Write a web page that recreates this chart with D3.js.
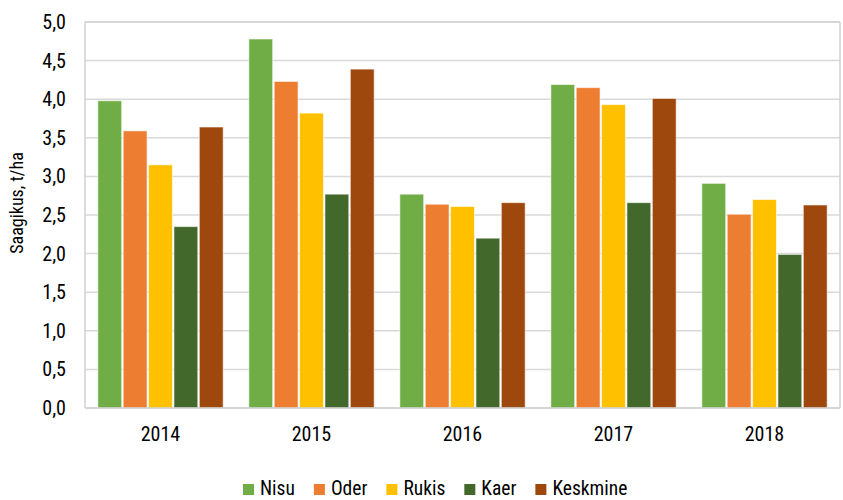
<!DOCTYPE html>
<html>
<head>
<meta charset="utf-8">
<script src="https://cdn.jsdelivr.net/npm/d3@7"></script>
<style>
  body { margin: 0; background: #fff; }
  text { font-family: "Roboto Condensed", "Roboto", sans-serif; fill: #000; }
</style>
</head>
<body>
<script>
// data
const years = ["2014", "2015", "2016", "2017", "2018"];
const crops = ["Nisu", "Oder", "Rukis", "Kaer", "Keskmine"];
const colors = ["#70AD47", "#ED7D31", "#FFC000", "#43682B", "#9E480E"];
const nisu = [3.98, 4.78, 2.77, 4.19, 2.91];
const oder = [3.59, 4.23, 2.64, 4.15, 2.51];
const rukis = [3.15, 3.82, 2.61, 3.93, 2.70];
const kaer = [2.35, 2.77, 2.20, 2.66, 1.99];
const keskmine = [3.64, 4.39, 2.66, 4.01, 2.63];
const yTicks = [0, 0.5, 1, 1.5, 2, 2.5, 3, 3.5, 4, 4.5, 5];

const series = [nisu, oder, rukis, kaer, keskmine];

const width = 843, height = 500;
const margin = { top: 22, right: 3, bottom: 92, left: 85 };
const plotW = width - margin.left - margin.right;
const plotH = height - margin.top - margin.bottom;

const svg = d3.select("body").append("svg")
    .attr("width", width)
    .attr("height", height);

const g = svg.append("g")
    .attr("transform", `translate(${margin.left},${margin.top})`);

let x0 = d3.scaleBand()
    .domain(years)
    .range([0, plotW])
    .paddingInner(0.16)
    .paddingOuter(0.08);

let x1 = d3.scaleBand()
    .domain(crops)
    .range([0, x0.bandwidth()]);

let y = d3.scaleLinear()
    .domain([0, 5])
    .range([plotH, 0]);

//gridlines
g.append("g")
    .selectAll("line")
    .data(yTicks)
    .enter()
    .append("line")
    .attr("x1", 0)
    .attr("x2", plotW)
    .attr("y1", d => y(d))
    .attr("y2", d => y(d))
    .attr("stroke", d => d == 5 ? "#c8c8c8" : "#d9d9d9")
    .attr("stroke-width", 1.5);

//plot border left/right
g.append("line").attr("x1", 0).attr("x2", 0).attr("y1", 0).attr("y2", plotH)
    .attr("stroke", "#d0d0d0").attr("stroke-width", 1.5);
g.append("line").attr("x1", plotW).attr("x2", plotW).attr("y1", 0).attr("y2", plotH)
    .attr("stroke", "#d0d0d0").attr("stroke-width", 1.5);

//y tick labels
let yAxis = g.append("g")
    .call(d3.axisLeft(y).tickValues(yTicks).tickSize(0).tickPadding(19)
        .tickFormat(d => d3.format(".1f")(d).replace(".", ",")));
yAxis.select(".domain").remove();
yAxis.selectAll("text")
    .style("font-family", '"Roboto Condensed", "Roboto", sans-serif')
    .style("font-size", "20px")
    .attr("fill", "#000");

//bars
const groups = g.append("g")
    .selectAll("g")
    .data(years)
    .enter()
    .append("g")
    .attr("transform", d => `translate(${x0(d)},0)`);

groups.selectAll("rect")
    .data((yr, i) => crops.map((c, j) => ({ crop: c, value: series[j][i], color: colors[j] })))
    .enter()
    .append("rect")
    .attr("x", d => x1(d.crop) + 0.75)
    .attr("y", d => y(d.value))
    .attr("width", x1.bandwidth() - 1.5)
    .attr("height", d => y(0) - y(d.value))
    .attr("fill", d => d.color)
    .attr("stroke", "#fff")
    .attr("stroke-opacity", 0.6)
    .attr("stroke-width", 1);

//bottom axis line
g.append("line").attr("x1", 0).attr("x2", plotW).attr("y1", plotH).attr("y2", plotH)
    .attr("stroke", "#d0d0d0").attr("stroke-width", 1.5);

//x labels
let xAxis = g.append("g")
    .attr("transform", `translate(0,${plotH})`)
    .call(d3.axisBottom(x0).tickSize(0).tickPadding(19));
xAxis.select(".domain").remove();
xAxis.selectAll("text")
    .style("font-family", '"Roboto Condensed", "Roboto", sans-serif')
    .style("font-size", "20px")
    .attr("fill", "#000");

//y title
svg.append("text")
    .attr("transform", "translate(23, 203) rotate(-90)")
    .style("text-anchor", "middle")
    .style("font-size", "18px")
    .text("Saagikus, t/ha");

//legend, laid out left to right by text width
let legendX = 243;
crops.forEach((c, i) => {
    const item = svg.append("g")
        .attr("transform", `translate(${legendX}, 484)`);
    item.append("rect")
        .attr("width", 11)
        .attr("height", 11)
        .attr("fill", colors[i]);
    const t = item.append("text")
        .attr("x", 17)
        .attr("y", 11)
        .style("font-size", "19.5px")
        .text(c);
    legendX += 17 + t.node().getComputedTextLength() + 19;
});
</script>
</body>
</html>
